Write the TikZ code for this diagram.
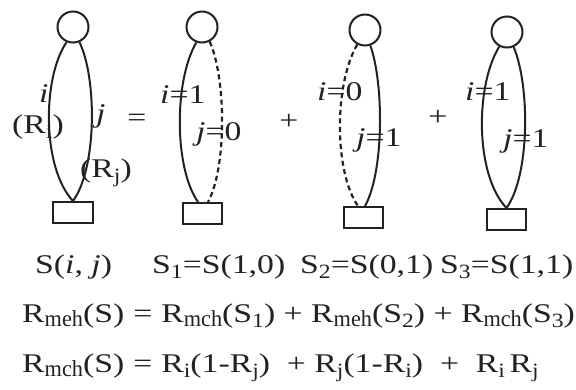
\documentclass[tikz,border=0pt]{standalone}
\usepackage{fontspec}
\usepackage{graphicx}
\setmainfont[FakeStretch=1.25]{Liberation Serif}
\newcommand\sbs[1]{\raisebox{-0.22em}{\scalebox{0.7}[0.75]{#1}}}
\newcommand\msub[1]{\raisebox{-0.16em}{\scalebox{0.66}[0.85]{#1}}}
\newcommand\eqsp{\hspace{9pt}=\hspace{9pt}}
\definecolor{ink}{HTML}{222222}
\begin{document}
\begin{tikzpicture}[x=1pt,y=-1pt,
  ln/.style={draw=ink,line width=2pt},
  dsh/.style={draw=ink,line width=2.2pt,dash pattern=on 5pt off 3.5pt},
  ring/.style={circle,draw=ink,line width=2pt,minimum size=31pt,inner sep=0pt},
  base/.style={rectangle,draw=ink,line width=2pt,minimum width=39pt,minimum height=21pt,inner sep=0pt},
  txt/.style={inner sep=0pt,anchor=base west,text=ink,font=\fontsize{27pt}{30pt}\selectfont},
  sym/.style={inner sep=0pt,text=ink,font=\fontsize{27pt}{30pt}\selectfont}]
\useasboundingbox[fill=white] (0,0) rectangle (576,389);
% diagram 1
\node[ring] (c1) at (73,27) {};
\node[base,minimum width=40pt] (b1) at (73,212.5) {};
\draw[ln] (c1.-113) .. controls (42,78) and (42,168) .. (b1.north);
\draw[ln] (c1.-67) .. controls (97,78) and (97,168) .. (b1.north);
% diagram 2
\node[ring] (c2) at (202,27) {};
\node[base] (b2) at (202.5,213.5) {};
\draw[ln] (c2.-110) .. controls (174,80) and (174,168) .. ([xshift=-4.5pt]b2.north);
\draw[dsh] (c2.-62) .. controls (226.5,80) and (226.5,168) .. ([xshift=5.5pt]b2.north);
% diagram 3
\node[ring] (c3) at (365,30) {};
\node[base] (b3) at (363.5,217.5) {};
\draw[dsh] (c3.-118) .. controls (334,84) and (334,172) .. ([xshift=-5.5pt]b3.north);
\draw[ln] (c3.-71) .. controls (384,84) and (384,172) .. ([xshift=1.5pt]b3.north);
% diagram 4
\node[ring] (c4) at (507,32) {};
\node[base] (b4) at (506.5,219.5) {};
\draw[ln] (c4.-118) .. controls (475,86) and (475,175) .. (b4.north);
\draw[ln] (c4.-66) .. controls (530,86) and (530,175) .. (b4.north);
% labels
\node[txt] (li) at (39,102) {\textit{i}};
\node[txt] (lRi) at (12,133) {(R\sbs{i})};
\node[txt] (lj) at (96,122) {\textit{j}};
\node[txt] (lRj) at (80,177) {(R\sbs{j})};
\node[sym] (eq) at (137,120) {=};
\node[txt] (l2i) at (160,103) {\textit{i}=1};
\node[txt] (l2j) at (196,140) {\textit{j}=0};
\node[sym] (p1) at (289,122) {+};
\node[txt] (l3i) at (317,100) {\textit{i}=0};
\node[txt] (l3j) at (356,146) {\textit{j}=1};
\node[sym] (p2) at (438,118) {+};
\node[txt] (l4i) at (465,100) {\textit{i}=1};
\node[txt] (l4j) at (503,147) {\textit{j}=1};
% bottom text
\node[txt] (s0) at (35,273) {S(\textit{i}, \textit{j})};
\node[txt] (s1) at (152,273) {S\sbs{1}=S(1,0)};
\node[txt] (s2) at (300,273) {S\sbs{2}=S(0,1)};
\node[txt] (s3) at (440,273) {S\sbs{3}=S(1,1)};
\node[txt] (r1) at (22,322) {R\msub{meh}(S)\eqsp R\msub{mch}(S\sbs{1}) + R\msub{meh}(S\sbs{2}) + R\msub{mch}(S\sbs{3})};
\node[txt] (r2) at (22,372) {R\msub{mch}(S)\eqsp R\sbs{i}(1-R\sbs{j})~ + R\sbs{j}(1-R\sbs{i})~ + ~R\sbs{i}\,R\sbs{j}};
\end{tikzpicture}
\end{document}
